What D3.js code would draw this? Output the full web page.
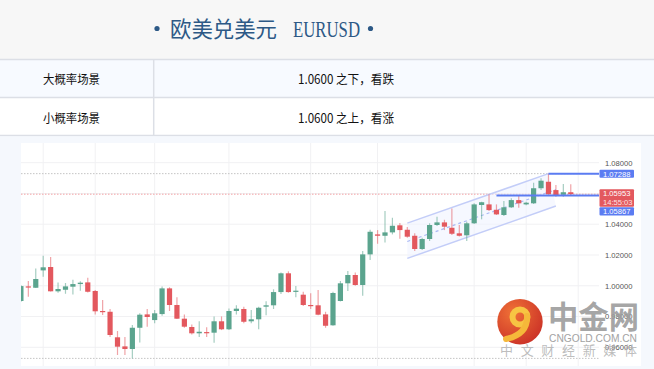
<!DOCTYPE html>
<html><head><meta charset="utf-8">
<script src="https://cdn.jsdelivr.net/npm/d3@7"></script>
<style>
html,body{margin:0;padding:0;background:#fff;overflow:hidden}
svg{display:block}
</style></head><body>
<svg id="c" width="654" height="369"></svg>
<script>
// ---- data ----
const opens  = [0.9901,0.9996,0.9987,1.0100,1.0122,0.9964,0.9974,0.9994,1.0011,1.0022,
                0.9966,0.9836,0.9831,0.9665,0.9606,0.9589,0.9727,0.9814,0.9777,0.9816,
                0.9983,0.9875,0.9786,0.9732,0.9691,0.9699,0.9695,0.9769,0.9717,0.9836,
                0.9849,0.9769,0.9782,0.9864,0.9873,0.9959,1.0081,0.9961,0.9942,0.9875,
                0.9873,0.9814,0.9743,0.9901,1.0016,1.0070,1.0005,1.0204,1.0334,1.0325,
                1.0347,1.0393,1.0364,1.0325,1.0239,1.0304,1.0395,1.0412,1.0377,1.0341,
                1.0328,1.0406,1.0525,1.0529,1.0494,1.0460,1.0510,1.0557,1.0529,1.0536,
                1.0634,1.0676,1.0622,1.0592,1.0608];
const highs  = [1.0005,1.0031,1.0113,1.0195,1.0187,1.0022,1.0018,1.0039,1.0029,1.0052,
                0.9972,0.9907,0.9849,0.9706,0.9667,0.9745,0.9821,0.9849,0.9842,0.9996,
                0.9990,0.9925,0.9814,0.9749,0.9769,0.9730,0.9801,0.9801,0.9853,0.9873,
                0.9864,0.9842,0.9864,0.9899,0.9977,1.0087,1.0094,0.9998,0.9961,0.9951,
                0.9972,0.9831,0.9961,1.0031,1.0096,1.0087,1.0226,1.0364,1.0362,1.0486,
                1.0442,1.0408,1.0382,1.0341,1.0312,1.0406,1.0449,1.0429,1.0503,1.0395,
                1.0416,1.0536,1.0546,1.0595,1.0529,1.0551,1.0569,1.0590,1.0546,1.0670,
                1.0699,1.07288,1.0655,1.0662,1.0660];
const lows   = [0.9894,0.9929,0.9985,1.0059,0.9962,0.9955,0.9948,0.9944,0.9968,0.9957,
                0.9814,0.9810,0.9667,0.9550,0.9550,0.9528,0.9632,0.9734,0.9756,0.9805,
                0.9836,0.9784,0.9727,0.9684,0.9667,0.9667,0.9630,0.9712,0.9712,0.9814,
                0.9756,0.9756,0.9717,0.9808,0.9849,0.9946,0.9955,0.9925,0.9868,0.9849,
                0.9808,0.9727,0.9740,0.9898,0.9966,1.0000,0.9935,1.0167,1.0273,1.0282,
                1.0334,1.0306,1.0312,1.0226,1.0232,1.0291,1.0388,1.0362,1.0330,1.0321,
                1.0291,1.0401,1.0432,1.0486,1.0460,1.0453,1.0505,1.0507,1.0523,1.0531,
                1.0622,1.0590,1.0579,1.0579,1.0585];
const closes = [0.9998,0.9990,1.0044,1.0120,0.9964,0.9979,0.9996,1.0011,1.0020,0.9961,
                0.9834,0.9829,0.9680,0.9604,0.9589,0.9727,0.9812,0.9797,0.9821,0.9983,
                0.9875,0.9786,0.9734,0.9691,0.9701,0.9695,0.9769,0.9717,0.9836,0.9851,
                0.9766,0.9782,0.9857,0.9873,0.9959,1.0081,0.9959,0.9968,0.9875,0.9870,
                0.9812,0.9740,0.9953,1.0016,1.0070,1.0005,1.0204,1.0351,1.0325,1.0347,
                1.0390,1.0362,1.0319,1.0239,1.0304,1.0395,1.0412,1.0384,1.0338,1.0325,
                1.0406,1.0529,1.0543,1.0492,1.0464,1.0510,1.0557,1.0536,1.0540,1.0634,
                1.0683,1.0595,1.0585,1.0608,1.05953];
const gridTicks = [0.96,0.98,1.00,1.02,1.04,1.06,1.08];
const labelTicks = [0.96,0.98,1.00,1.02,1.04,1.08];
const gridIdx = [3,10,18,28,39,48,61,68,75];
const channelUpper = [[52,1.0407],[71,1.07288]];
const channelLower = [[52,1.0178],[72,1.0518]];
const channelMid   = [[52,1.0288],[72,1.0625]];
const levelHigh = 1.07288, levelHighStart = 71;
const levelSupport = 1.05867, levelSupportStart = 64;
const lastPrice = 1.05953, lastTime = "14:55:03";
const periodLow = 0.9528;
const titleCN = "欧美兑美元", titleEN = "EURUSD";
const tableRows = [["大概率场景","1.0600 之下，看跌"],["小概率场景","1.0600 之上，看涨"]];

// ---- layout ----
const svg = d3.select("#c");
const UP = "#5ba48e", DOWN = "#e3585e", BLUE = "#5b7cf2";
const fmt = d3.format(".5f");

svg.append("rect").attr("width",654).attr("height",369).attr("fill","#f5f8fd");
// title
svg.append("rect").attr("width",654).attr("height",59).attr("fill","#f7f7f7");
const tg = svg.append("g").attr("fill","#2d5986");
tg.append("circle").attr("cx",157).attr("cy",28.5).attr("r",2.6);
tg.append("circle").attr("cx",370.5).attr("cy",28.5).attr("r",2.6);
tg.append("text").attr("x",170).attr("y",37).attr("font-size",21.5)
  .attr("font-family","Noto Sans CJK SC").attr("textLength",107).attr("lengthAdjust","spacingAndGlyphs").text(titleCN);
tg.append("text").attr("x",293).attr("y",37).attr("font-size",23)
  .attr("font-family","Liberation Serif, serif").attr("textLength",67).attr("lengthAdjust","spacingAndGlyphs").text(titleEN);

// table
const rowY = [59, 97.5];
const rowBg = ["#f7faff","#ffffff"];
tableRows.forEach((r,i)=>{
  svg.append("rect").attr("x",0).attr("y",rowY[i]).attr("width",654).attr("height",38).attr("fill",rowBg[i]);
  svg.append("text").attr("x",43).attr("y",rowY[i]+25).attr("font-size",12.5)
    .attr("font-family","Noto Sans CJK SC").attr("fill","#111")
    .attr("textLength",57).attr("lengthAdjust","spacingAndGlyphs").text(r[0]);
  svg.append("text").attr("x",298).attr("y",rowY[i]+25).attr("font-size",12.5)
    .attr("font-family","Noto Sans CJK SC").attr("fill","#111")
    .attr("textLength",96).attr("lengthAdjust","spacingAndGlyphs").text(r[1]);
});
[59.5,97.5,135.5].forEach(yy=>svg.append("line").attr("x1",0).attr("x2",654).attr("y1",yy).attr("y2",yy)
  .attr("stroke","#dcdfe6").attr("stroke-width",1.5));
svg.append("line").attr("x1",153.7).attr("x2",153.7).attr("y1",60).attr("y2",135).attr("stroke","#dcdfe6").attr("stroke-width",1.5);
svg.append("rect").attr("x",0).attr("y",136.3).attr("width",654).attr("height",6.7).attr("fill","#f5f8fd");

// chart panel
svg.append("rect").attr("x",21).attr("y",143).attr("width",620).attr("height",223).attr("fill","#ffffff");

const x = d3.scaleLinear().domain([0,77.8]).range([20.9,599]);
const y = d3.scaleLinear().domain([0.96,1.08]).range([347.3,162.7]);

svg.append("clipPath").attr("id","plot").append("rect").attr("x",21).attr("y",143).attr("width",578).attr("height",223);
const plot = svg.append("g").attr("clip-path","url(#plot)");

plot.selectAll(".vg").data(gridIdx).enter().append("line")
  .attr("x1",d=>x(d)).attr("x2",d=>x(d)).attr("y1",143).attr("y2",366)
  .attr("stroke","#f1f1f3").attr("stroke-width",1);
plot.selectAll(".hg").data(gridTicks).enter().append("line")
  .attr("x1",21).attr("x2",599).attr("y1",d=>y(d)).attr("y2",d=>y(d))
  .attr("stroke","#f1f1f3").attr("stroke-width",1);

[[levelHigh,"#c4c4c4"],[periodLow,"#c4c4c4"],[lastPrice,"#f3a3a6"]].forEach(([v,c])=>{
  plot.append("line").attr("x1",21).attr("x2",599).attr("y1",y(v)).attr("y2",y(v))
    .attr("stroke",c).attr("stroke-width",1).attr("stroke-dasharray","1.5,1.5");
});

// channel
const poly = [channelUpper[0],channelUpper[1],channelLower[1],channelLower[0]];
plot.append("path").attr("d", d3.line().x(d=>x(d[0])).y(d=>y(d[1]))(poly)+"Z")
  .attr("fill","#eef2ff").attr("fill-opacity",0.55);
[channelUpper,channelLower].forEach(seg=>{
  plot.append("path").attr("d", d3.line().x(d=>x(d[0])).y(d=>y(d[1]))(seg))
    .attr("stroke","#c3cdf8").attr("stroke-width",1.5).attr("fill","none");
});
plot.append("path").attr("d", d3.line().x(d=>x(d[0])).y(d=>y(d[1]))(channelMid))
  .attr("stroke","#a9b8f5").attr("stroke-width",1.2).attr("stroke-dasharray","3,3").attr("fill","none");

// candles
const idx = d3.range(opens.length);
const cg = plot.selectAll(".cd").data(idx).enter().append("g");
cg.append("line")
  .attr("x1",i=>x(i)).attr("x2",i=>x(i))
  .attr("y1",i=>y(highs[i])).attr("y2",i=>y(lows[i]))
  .attr("stroke",i=>closes[i]>=opens[i]?UP:DOWN).attr("stroke-opacity",0.55).attr("stroke-width",1.2);
cg.append("rect")
  .attr("x",i=>x(i)-2.6).attr("width",5.2)
  .attr("y",i=>y(Math.max(opens[i],closes[i])))
  .attr("height",i=>Math.max(1.2, Math.abs(y(opens[i])-y(closes[i]))))
  .attr("fill",i=>closes[i]>=opens[i]?UP:DOWN);

[[levelHigh,levelHighStart],[levelSupport,levelSupportStart]].forEach(([v,s])=>{
  plot.append("line").attr("x1",x(s)).attr("x2",599).attr("y1",y(v)).attr("y2",y(v))
    .attr("stroke",BLUE).attr("stroke-width",2);
});

// right axis
const ax = svg.append("g").attr("transform","translate(599,0)")
  .call(d3.axisRight(y).tickValues(labelTicks).tickFormat(fmt).tickSize(0).tickPadding(6));
ax.select(".domain").remove();
ax.selectAll("text").attr("font-size",7.6).attr("fill","#555").attr("font-family","Liberation Sans, Arial, sans-serif");

function label(yy, h, color, lines){
  const g = svg.append("g");
  g.append("rect").attr("x",599.5).attr("y",yy).attr("width",34.5).attr("height",h).attr("fill",color).attr("rx",1);
  lines.forEach((t,k)=>g.append("text").attr("x",603).attr("y",yy+7.2+k*8.6).attr("font-size",7.6)
    .attr("fill",k? "#fde3e4":"#fff").attr("font-family","Liberation Sans, Arial, sans-serif").text(t));
}
label(y(levelHigh)-4, 8.2, BLUE, [fmt(levelHigh)]);
label(y(lastPrice)-4.9, 17.5, DOWN, [fmt(lastPrice), lastTime]);
label(y(lastPrice)+13, 8.2, BLUE, [fmt(levelSupport)]);

// watermark
const wm = svg.append("g");
const grad = svg.append("defs").append("radialGradient").attr("id","lg").attr("cx","35%").attr("cy","30%").attr("r","75%");
grad.append("stop").attr("offset","0%").attr("stop-color","#ef6a2c");
grad.append("stop").attr("offset","100%").attr("stop-color","#c9281c");
wm.append("circle").attr("cx",520).attr("cy",321.7).attr("r",22.7).attr("fill","url(#lg)").attr("opacity",0.95);
wm.append("circle").attr("cx",520).attr("cy",317).attr("r",7.5).attr("fill","none").attr("stroke","#f7c443").attr("stroke-width",6);
wm.append("path").attr("d","M527,316 Q528,334 506,339").attr("fill","none").attr("stroke","#f5b83a").attr("stroke-width",6).attr("stroke-linecap","round");
wm.append("text").attr("x",548).attr("y",328).attr("font-size",31).attr("font-weight","bold")
  .attr("font-family","Noto Sans CJK SC").attr("fill","#9d9d9d").attr("fill-opacity",0.92)
  .attr("textLength",91).attr("lengthAdjust","spacingAndGlyphs").text("中金网");
wm.append("text").attr("x",549).attr("y",342).attr("font-size",10.5)
  .attr("font-family","Liberation Sans, Arial, sans-serif").attr("fill","#a3a3a3")
  .attr("textLength",88).attr("lengthAdjust","spacingAndGlyphs").text("CNGOLD.COM.CN");
wm.append("text").attr("x",500).attr("y",355).attr("font-size",13)
  .attr("font-family","Noto Sans CJK SC").attr("fill","#b5b5b5").attr("fill-opacity",0.9)
  .attr("textLength",137).attr("lengthAdjust","spacing").text("中文财经新媒体");
</script>
</body></html>
